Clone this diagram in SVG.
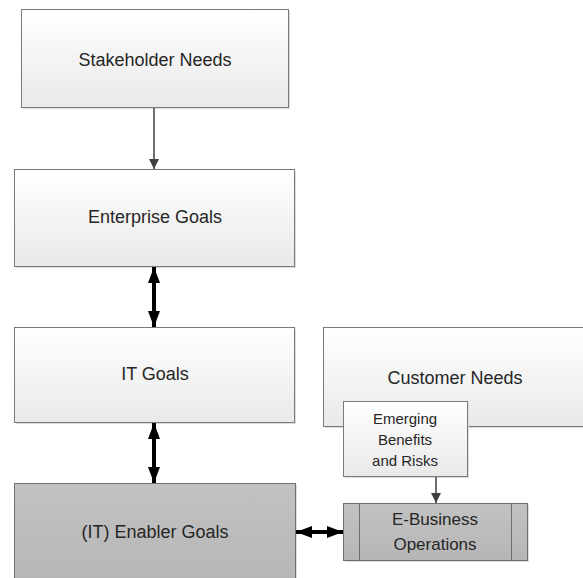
<svg xmlns="http://www.w3.org/2000/svg" width="583" height="578" viewBox="0 0 583 578">
<defs>
<linearGradient id="gw" x1="0" y1="0" x2="0" y2="1">
<stop offset="0" stop-color="#ffffff"/>
<stop offset="1" stop-color="#e9e9e9"/>
</linearGradient>
<linearGradient id="gg" x1="0" y1="0" x2="0" y2="1">
<stop offset="0" stop-color="#c2c2c2"/>
<stop offset="1" stop-color="#b6b6b6"/>
</linearGradient>
<marker id="ah" viewBox="0 0 10 10" refX="10" refY="5" markerWidth="10" markerHeight="10" markerUnits="userSpaceOnUse" orient="auto">
<path d="M0,0 L10,5 L0,10 z" fill="#404040"/>
</marker>
<marker id="ahb" viewBox="0 0 16 12" refX="16" refY="6" markerWidth="16" markerHeight="12" markerUnits="userSpaceOnUse" orient="auto-start-reverse">
<path d="M0,0 L16,6 L0,12 z" fill="#000"/>
</marker>
</defs>
<style>
.box{fill:url(#gw);stroke:#7a7a7a;stroke-width:1}
.gray{fill:url(#gg);stroke:#6e6e6e;stroke-width:1}
.sh{fill:#dcdcdc}
.t{font-family:"Liberation Sans",Arial,sans-serif;font-size:18px;fill:#262626;text-anchor:middle}
.s{font-family:"Liberation Sans",Arial,sans-serif;font-size:15px;fill:#262626;text-anchor:middle}
.m{font-family:"Liberation Sans",Arial,sans-serif;font-size:17px;fill:#262626;text-anchor:middle}
</style>
<rect width="583" height="578" fill="#fff"/>
<g id="stakeholder">
<rect class="sh" x="23" y="11" width="267" height="98"/>
<rect class="box" x="21.5" y="9.5" width="267" height="98"/>
<text class="t" x="155" y="66">Stakeholder Needs</text>
</g>
<g id="enterprise">
<rect class="sh" x="16" y="171" width="280" height="97"/>
<rect class="box" x="14.5" y="169.5" width="280" height="97"/>
<text class="t" x="155" y="223">Enterprise Goals</text>
</g>
<g id="itgoals">
<rect class="sh" x="16" y="329" width="280" height="95"/>
<rect class="box" x="14.5" y="327.5" width="280" height="95"/>
<text class="t" x="155" y="380">IT Goals</text>
</g>
<g id="enabler">
<rect class="sh" x="16" y="485" width="281" height="100"/>
<rect class="gray" x="14.5" y="483.5" width="281" height="100"/>
<text class="t" x="155" y="538">(IT) Enabler Goals</text>
</g>
<g id="customer">
<rect class="sh" x="325" y="329" width="270" height="99"/>
<rect class="box" x="323.5" y="327.5" width="270" height="99"/>
<text class="t" x="455" y="384">Customer Needs</text>
</g>
<g id="emerging">
<rect class="sh" x="345" y="403" width="124" height="75"/>
<rect class="box" x="343.5" y="401.5" width="124" height="75"/>
<text class="s" x="405" y="424">Emerging</text>
<text class="s" x="405" y="445">Benefits</text>
<text class="s" x="405" y="466">and Risks</text>
</g>
<g id="ebusiness">
<rect class="sh" x="345" y="505" width="184" height="57"/>
<rect class="gray" x="343.5" y="503.5" width="184" height="57"/>
<line x1="359.5" y1="503.5" x2="359.5" y2="560.5" stroke="#6e6e6e"/>
<line x1="511.5" y1="503.5" x2="511.5" y2="560.5" stroke="#6e6e6e"/>
<text class="m" x="435" y="525">E-Business</text>
<text class="m" x="435" y="550">Operations</text>
</g>
<g id="connectors">
<line x1="154" y1="108" x2="154" y2="169" stroke="#404040" stroke-width="1.5" marker-end="url(#ah)"/>
<line x1="154" y1="267" x2="154" y2="327" stroke="#000" stroke-width="4" marker-start="url(#ahb)" marker-end="url(#ahb)"/>
<line x1="154" y1="423" x2="154" y2="483" stroke="#000" stroke-width="4" marker-start="url(#ahb)" marker-end="url(#ahb)"/>
<line x1="296" y1="532" x2="343" y2="532" stroke="#000" stroke-width="4" marker-start="url(#ahb)" marker-end="url(#ahb)"/>
<line x1="436" y1="477" x2="436" y2="503" stroke="#404040" stroke-width="1.5" marker-end="url(#ah)"/>
</g>
</svg>
